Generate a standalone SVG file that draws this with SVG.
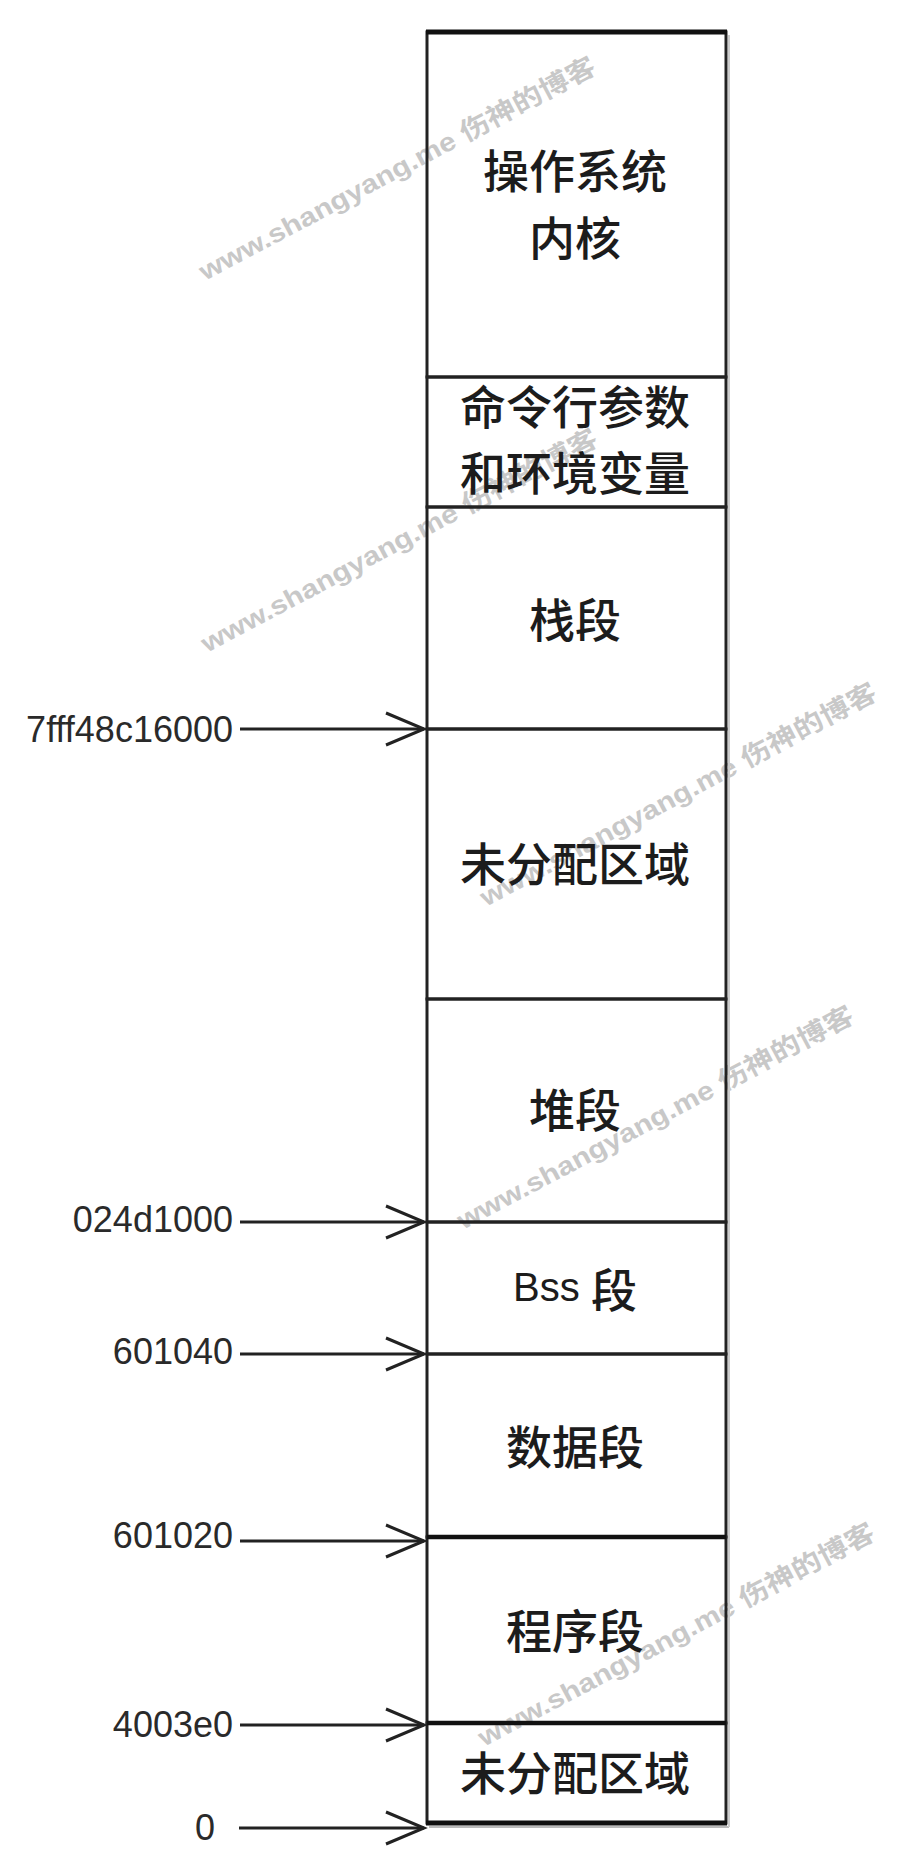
<svg xmlns="http://www.w3.org/2000/svg" width="900" height="1872" viewBox="0 0 900 1872">
<style>
.seg{fill:none;stroke:#222;stroke-width:3}
.lbl{font-family:"Noto Sans CJK SC","Noto Sans CJK JP",sans-serif;font-size:46px;font-weight:500;fill:#1c1c1c;text-anchor:middle;dominant-baseline:central}
.addr{font-family:"Liberation Sans",Arial,sans-serif;font-size:36px;fill:#2a2a2a;text-anchor:end}
.conn{stroke:#222;stroke-width:3;fill:none}
.wm{font-family:"Liberation Sans","Noto Sans CJK SC",sans-serif;font-size:26px;font-weight:bold;fill:#c8c8c8}
</style>
<defs>
<marker id="arr" markerUnits="userSpaceOnUse" markerWidth="46" markerHeight="42" viewBox="-3 -3 46 42" refX="38" refY="16" orient="auto">
<path d="M0,0 L38,16 L0,32" fill="none" stroke="#222" stroke-width="3"/>
</marker>
</defs>
<rect width="900" height="1872" fill="#fff"/>
<g id="watermarks">
<text class="wm" transform="translate(205,281) rotate(-28)" textLength="445" lengthAdjust="spacingAndGlyphs">www.shangyang.me 伤神的博客</text>
<text class="wm" transform="translate(207,653) rotate(-28)" textLength="445" lengthAdjust="spacingAndGlyphs">www.shangyang.me 伤神的博客</text>
<text class="wm" transform="translate(486,907) rotate(-28)" textLength="445" lengthAdjust="spacingAndGlyphs">www.shangyang.me 伤神的博客</text>
<text class="wm" transform="translate(463,1230) rotate(-28)" textLength="445" lengthAdjust="spacingAndGlyphs">www.shangyang.me 伤神的博客</text>
<text class="wm" transform="translate(484,1747) rotate(-28)" textLength="445" lengthAdjust="spacingAndGlyphs">www.shangyang.me 伤神的博客</text>
</g>
<g id="kernel">
<rect class="seg" x="427" y="32" width="299" height="345"/>
<text class="lbl" x="575" y="168">操作系统</text>
<text class="lbl" x="575" y="235">内核</text>
</g>
<g id="cmdline-env">
<rect class="seg" x="427" y="377" width="299" height="130"/>
<text class="lbl" x="575" y="404">命令行参数</text>
<text class="lbl" x="575" y="470">和环境变量</text>
</g>
<g id="stack">
<rect class="seg" x="427" y="507" width="299" height="222"/>
<text class="lbl" x="575" y="617">栈段</text>
</g>
<g id="unallocated-high">
<rect class="seg" x="427" y="729" width="299" height="270"/>
<text class="lbl" x="575" y="861">未分配区域</text>
</g>
<g id="heap">
<rect class="seg" x="427" y="999" width="299" height="223"/>
<text class="lbl" x="575" y="1107">堆段</text>
</g>
<g id="bss">
<rect class="seg" x="427" y="1222" width="299" height="132"/>
<text class="lbl" x="575" y="1287"><tspan font-family="Liberation Sans,Arial,sans-serif" font-size="40" font-weight="normal">Bss </tspan><tspan>段</tspan></text>
</g>
<g id="data">
<rect class="seg" x="427" y="1354" width="299" height="183"/>
<text class="lbl" x="575" y="1444">数据段</text>
</g>
<g id="text">
<rect class="seg" x="427" y="1537" width="299" height="186"/>
<text class="lbl" x="575" y="1628">程序段</text>
</g>
<g id="unallocated-low">
<rect class="seg" x="427" y="1723" width="299" height="100"/>
<text class="lbl" x="575" y="1770">未分配区域</text>
</g>
<g id="emphasis">
<line x1="426" y1="32" x2="727" y2="32" stroke="#111" stroke-width="5"/>
<line x1="427" y1="1537" x2="726" y2="1537" stroke="#111" stroke-width="4.5"/>
<line x1="427" y1="1723" x2="726" y2="1723" stroke="#111" stroke-width="4.5"/>
<line x1="426" y1="1823" x2="727" y2="1823" stroke="#111" stroke-width="5"/>
<line x1="429" y1="1827" x2="729" y2="1827" stroke="#bbb" stroke-width="2"/>
<line x1="729" y1="35" x2="729" y2="1827" stroke="#ccc" stroke-width="2"/>
</g>
<g id="connectors">
<line class="conn" x1="240" y1="729" x2="424" y2="729" marker-end="url(#arr)"/>
<line class="conn" x1="240" y1="1222" x2="424" y2="1222" marker-end="url(#arr)"/>
<line class="conn" x1="240" y1="1354" x2="424" y2="1354" marker-end="url(#arr)"/>
<line class="conn" x1="240" y1="1541" x2="424" y2="1541" marker-end="url(#arr)"/>
<line class="conn" x1="240" y1="1725" x2="424" y2="1725" marker-end="url(#arr)"/>
<line class="conn" x1="239" y1="1828" x2="424" y2="1828" marker-end="url(#arr)"/>
</g>
<g id="addresses">
<text class="addr" x="233" y="742">7fff48c16000</text>
<text class="addr" x="233" y="1232">024d1000</text>
<text class="addr" x="233" y="1364">601040</text>
<text class="addr" x="233" y="1548">601020</text>
<text class="addr" x="233" y="1737">4003e0</text>
<text class="addr" x="215" y="1840">0</text>
</g>
</svg>
